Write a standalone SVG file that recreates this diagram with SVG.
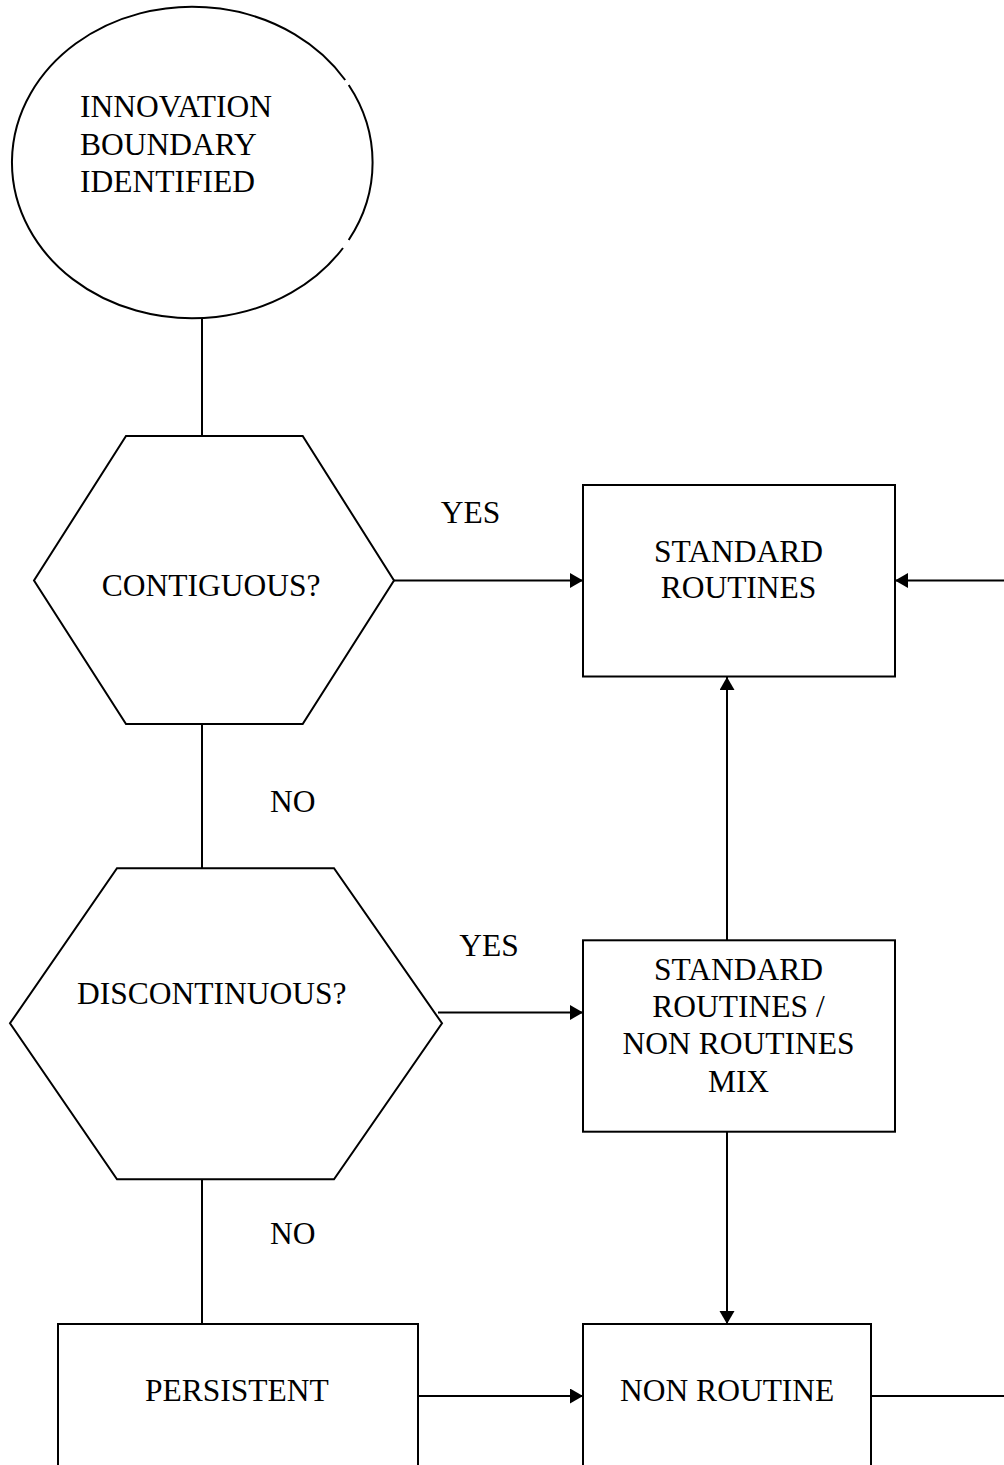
<svg xmlns="http://www.w3.org/2000/svg" width="1004" height="1465" viewBox="0 0 1004 1465">
<style>
.s{fill:none;stroke:#000;stroke-width:2}
.n{fill:#fff;stroke:#000;stroke-width:2}
.t{font-family:"Liberation Serif","Times New Roman",serif;font-size:31.5px;fill:#000}
.m{text-anchor:middle}
</style>
<defs>
<marker id="ah" markerUnits="userSpaceOnUse" markerWidth="14" markerHeight="16" refX="13" refY="7.5" orient="auto">
<path d="M0,0 L13,7.5 L0,15 z" fill="#000"/>
</marker>
</defs>
<rect width="1004" height="1465" fill="#fff"/>
<g id="connectors">
<line class="s" x1="202" y1="318" x2="202" y2="436"/>
<line class="s" x1="202" y1="724" x2="202" y2="868"/>
<line class="s" x1="202" y1="1179" x2="202" y2="1324"/>
<line class="s" x1="394" y1="580.5" x2="583" y2="580.5" marker-end="url(#ah)"/>
<line class="s" x1="1004" y1="580.5" x2="895" y2="580.5" marker-end="url(#ah)"/>
<line class="s" x1="727" y1="940" x2="727" y2="677" marker-end="url(#ah)"/>
<line class="s" x1="438" y1="1012.5" x2="583" y2="1012.5" marker-end="url(#ah)"/>
<line class="s" x1="727" y1="1132" x2="727" y2="1324" marker-end="url(#ah)"/>
<line class="s" x1="414" y1="1396" x2="583" y2="1396" marker-end="url(#ah)"/>
<line class="s" x1="871" y1="1396" x2="1004" y2="1396"/>
<text class="t" x="440.7" y="523">YES</text>
<text class="t" x="270" y="812.3">NO</text>
<text class="t" x="459.3" y="955.7">YES</text>
<text class="t" x="270" y="1243.5">NO</text>
</g>
<g id="start">
<path class="s" d="M348.7,85 A180.3,155.8 0 0 1 348.7,240 M343,248 A180.3,155.8 0 1 1 345.2,80"/>
<text class="t" x="80" y="117.3">INNOVATION</text>
<text class="t" x="80" y="155">BOUNDARY</text>
<text class="t" x="80" y="191.7">IDENTIFIED</text>
</g>
<g id="contiguous">
<polygon class="n" points="126,436 302.7,436 394,580.5 302.7,724 126,724 34,580.5"/>
<text class="t" x="101.7" y="595.7">CONTIGUOUS?</text>
</g>
<g id="discontinuous">
<polygon class="n" points="117,868.3 334,868.3 442,1023.3 334,1179.3 117,1179.3 10,1023.3"/>
<text class="t" x="77" y="1004">DISCONTINUOUS?</text>
</g>
<g id="standard">
<rect class="n" x="583" y="485" width="312" height="191.5"/>
<text class="t m" x="738.5" y="561.7">STANDARD</text>
<text class="t m" x="738.5" y="598">ROUTINES</text>
</g>
<g id="mix">
<rect class="n" x="583" y="940.3" width="312" height="191.4"/>
<text class="t m" x="738.5" y="980">STANDARD</text>
<text class="t m" x="738.5" y="1017">ROUTINES /</text>
<text class="t m" x="738.5" y="1054">NON ROUTINES</text>
<text class="t m" x="738.5" y="1091.7">MIX</text>
</g>
<g id="persistent">
<rect class="n" x="58" y="1324" width="360" height="160"/>
<text class="t" x="145" y="1401">PERSISTENT</text>
</g>
<g id="nonroutine">
<rect class="n" x="583" y="1324" width="288" height="160"/>
<text class="t" x="620" y="1401">NON ROUTINE</text>
</g>
</svg>
